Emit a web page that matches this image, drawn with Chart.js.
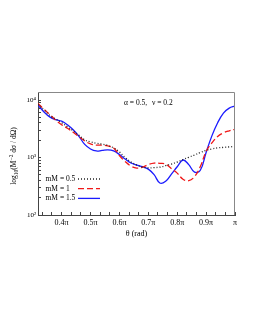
<!DOCTYPE html>
<html>
<head>
<meta charset="utf-8">
<script src="https://cdn.jsdelivr.net/npm/chart.js@4/dist/chart.umd.min.js"></script>
<style>
  body { margin: 0; background: #fff; }
  canvas { display: block; }
</style>
</head>
<body>
<canvas id="myChart" width="255" height="330"></canvas>
<script>
// theta in units of pi (starts at 1 rad)
const thetaPi = [
  0.3183, 0.34, 0.36, 0.38, 0.4, 0.42, 0.44, 0.46, 0.48, 0.5,
  0.52, 0.54, 0.56, 0.58, 0.6, 0.62, 0.64, 0.66, 0.68, 0.7,
  0.72, 0.74, 0.76, 0.78, 0.8, 0.82, 0.84, 0.86, 0.88, 0.9,
  0.92, 0.94, 0.96, 0.98, 1.0,
];

const mm05 = [
  8340, 6680, 5350, 4650, 4030, 3430, 2920, 2430, 2030, 1870,
  1775, 1710, 1625, 1470, 1250, 1000, 835, 740, 680, 660,
  668, 680, 724, 770, 835, 920, 1010, 1105, 1225, 1330,
  1410, 1470, 1500, 1530, 1560,
];

const mm1 = [
  8690, 6810, 5570, 4450, 3715, 3230, 2750, 2290, 1950, 1725,
  1645, 1645, 1590, 1470, 1085, 850, 710, 655, 680, 755,
  800, 790, 770, 640, 535, 420, 395, 465, 695, 1275,
  1795, 2330, 2690, 2920, 3100,
];

const mm15 = [
  8170, 6150, 5035, 4550, 4285, 3715, 3035, 2335, 1690, 1410,
  1300, 1327, 1355, 1300, 1130, 942, 802, 738, 695, 628,
  504, 360, 387, 514, 690, 905, 753, 557, 600, 1225,
  2380, 4030, 5920, 7240, 7850,
];

const labels = ["mM = 0.5", "mM = 1", "mM = 1.5"];
const yTicks = [100, 200, 300, 400, 500, 600, 700, 800, 900,
  1000, 2000, 3000, 4000, 5000, 6000, 7000, 8000, 9000, 10000];
const yTickLabels = { 100: "10\u00B2", 1000: "10\u00B3", 10000: "10\u2074" };

const serif = "'Liberation Serif', 'DejaVu Serif', serif";
Chart.defaults.font.family = serif;
Chart.defaults.color = "#000";

function points(values) {
  return thetaPi.map((t, i) => ({ x: t, y: values[i] }));
}

// box round the plot, legend, note and y title
const extras = {
  id: "extras",
  afterDraw(chart) {
    const ctx = chart.ctx;
    const a = chart.chartArea;
    ctx.save();
    ctx.strokeStyle = "#888";
    ctx.lineWidth = 1;
    ctx.beginPath();
    ctx.moveTo(a.left, a.top + 0.5);
    ctx.lineTo(a.right - 0.5, a.top + 0.5);
    ctx.lineTo(a.right - 0.5, a.bottom);
    ctx.stroke();

    // note
    ctx.fillStyle = "#000";
    ctx.font = "7.5px " + serif;
    ctx.textBaseline = "middle";
    ctx.textAlign = "left";
    ctx.fillText("\u03B1 = 0.5,", 124, 103.5);
    ctx.fillText("\u03BD = 0.2", 152, 103.5);

    // legend
    chart.data.datasets.forEach((ds, i) => {
      const y = 179 + i * 9.7;
      ctx.fillStyle = "#000";
      ctx.fillText(ds.label, 45.5, y);
      ctx.strokeStyle = ds.borderColor;
      ctx.lineWidth = ds.borderWidth;
      ctx.setLineDash(ds.borderDash || []);
      ctx.beginPath();
      ctx.moveTo(78, y);
      ctx.lineTo(100, y);
      ctx.stroke();
      ctx.setLineDash([]);
    });

    // y title: log10(M^-2 dσ / dΩ)
    const parts = [
      ["log", 7.5, 0],
      ["10", 5.5, 2],
      ["(M", 7.5, 0],
      ["\u22122", 5.5, -3],
      [" d\u03C3 / d\u03A9)", 7.5, 0],
    ];
    let total = 0;
    parts.forEach((p) => {
      ctx.font = p[1] + "px " + serif;
      total += ctx.measureText(p[0]).width;
    });
    ctx.translate(13.5, 156);
    ctx.rotate(-Math.PI / 2);
    ctx.textBaseline = "alphabetic";
    let x = -total / 2;
    parts.forEach((p) => {
      ctx.font = p[1] + "px " + serif;
      ctx.fillStyle = "#000";
      ctx.fillText(p[0], x, 2.5 + p[2]);
      x += ctx.measureText(p[0]).width;
    });
    ctx.restore();
  },
};

const data = {
  datasets: [
    {
      label: labels[0],
      data: points(mm05),
      borderColor: "#222",
      borderWidth: 1.3,
      borderDash: [1, 2],
    },
    {
      label: labels[1],
      data: points(mm1),
      borderColor: "#f01818",
      borderWidth: 1.3,
      borderDash: [6, 3],
    },
    {
      label: labels[2],
      data: points(mm15),
      borderColor: "#1a1aff",
      borderWidth: 1.3,
    },
  ],
};

const config = {
  type: "line",
  data: data,
  plugins: [extras],
  options: {
    responsive: false,
    animation: false,
    layout: { padding: { top: 92, right: 20, left: 0, bottom: 85 } },
    elements: { point: { radius: 0 }, line: { tension: 0.4 } },
    plugins: { legend: { display: false }, tooltip: { enabled: false } },
    scales: {
      x: {
        type: "linear",
        min: 1 / Math.PI,
        max: 1,
        afterFit: (scale) => { scale.height = 30; },
        afterBuildTicks: (scale) => {
          const ticks = [];
          for (let k = 10; k <= 30; k++) ticks.push({ value: k / 30 });
          scale.ticks = ticks;
        },
        border: { color: "#444", width: 1 },
        grid: { drawOnChartArea: false, tickLength: -3, color: "#444" },
        ticks: {
          autoSkip: false,
          maxRotation: 0,
          padding: 6,
          font: { size: 8 },
          callback: (v) => {
            const t = v * 10;
            if (Math.abs(t - Math.round(t)) > 1e-6) return "";
            return Math.round(t) === 10 ? "\u03C0" : (Math.round(t) / 10).toFixed(1) + "\u03C0";
          },
        },
        title: {
          display: true,
          text: "\u03B8 (rad)",
          font: { size: 8 },
          padding: { top: 0, bottom: 6 },
        },
      },
      y: {
        type: "logarithmic",
        min: 100,
        max: 13800,
        afterFit: (scale) => { scale.width = 38; },
        afterBuildTicks: (scale) => {
          scale.ticks = yTicks.map((v) => ({ value: v }));
        },
        border: { color: "#444", width: 1 },
        grid: { drawOnChartArea: false, tickLength: -3, color: "#444" },
        ticks: {
          autoSkip: false,
          padding: 5,
          font: { size: 7 },
          callback: (v) => yTickLabels[v] || "",
        },
      },
    },
  },
};

const myChart = new Chart(document.getElementById("myChart"), config);
</script>
</body>
</html>
